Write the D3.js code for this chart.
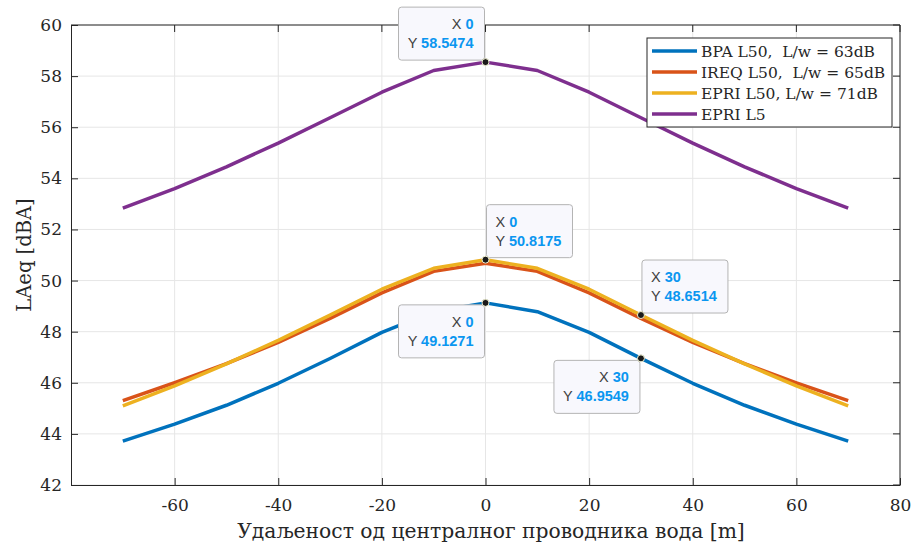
<!DOCTYPE html>
<html>
<head>
<meta charset="utf-8">
<script src="https://cdn.jsdelivr.net/npm/d3@7"></script>
<style>
  body { margin: 0; background: #fff; }
  svg text { font-family: "DejaVu Serif", "Liberation Serif", serif; }
  .tip text { font-family: "Liberation Sans", Arial, sans-serif; }
</style>
</head>
<body>
<svg id="chart" width="912" height="547"></svg>
<script>
// Data
const distances = [-70, -60, -50, -40, -30, -20, -10, 0, 10, 20, 30, 40, 50, 60, 70];
const bpaL50  = [43.72, 44.38, 45.12, 45.98, 46.95, 47.97, 48.78, 49.1271, 48.78, 47.97, 46.9549, 45.98, 45.12, 44.38, 43.72];
const ireqL50 = [45.30, 46.00, 46.75, 47.58, 48.52, 49.52, 50.36, 50.68, 50.36, 49.52, 48.52, 47.58, 46.75, 46.00, 45.30];
const epriL50 = [45.10, 45.88, 46.74, 47.66, 48.65, 49.66, 50.48, 50.8175, 50.48, 49.66, 48.6514, 47.66, 46.74, 45.88, 45.10];
const epriL5  = [52.83, 53.60, 54.45, 55.38, 56.37, 57.37, 58.22, 58.5474, 58.22, 57.37, 56.37, 55.38, 54.45, 53.60, 52.83];
const xTicks = [-60, -40, -20, 0, 20, 40, 60, 80];
const yTicks = [42, 44, 46, 48, 50, 52, 54, 56, 58, 60];

const series = [
  { name: 'BPA L50,  L/w = 63dB',  values: bpaL50,  color: '#0072BD' },
  { name: 'IREQ L50,  L/w = 65dB', values: ireqL50, color: '#D95319' },
  { name: 'EPRI L50, L/w = 71dB',  values: epriL50, color: '#EDB120' },
  { name: 'EPRI L5',               values: epriL5,  color: '#7E2F8E' }
];

// Data tips: series index, point index, box side
const tips = [
  { s: 3, i: 7, side: 'left',  dx: -87, dy: -55 },
  { s: 2, i: 7, side: 'right', dx: 1,   dy: -55 },
  { s: 2, i: 10, side: 'right', dx: 1,  dy: -55 },
  { s: 0, i: 7, side: 'left',  dx: -87, dy: 2 },
  { s: 0, i: 10, side: 'left', dx: -87, dy: 2 }
];

const svg = d3.select('#chart');
const m = { left: 71, right: 900, top: 25, bottom: 485 };

const x = d3.scaleLinear().domain([-80, 80]).range([m.left, m.right]);
const y = d3.scaleLinear().domain([42, 60]).range([m.bottom, m.top]);

// Grid
const grid = svg.append('g');
grid.selectAll('.gx').data(xTicks).join('line')
  .attr('x1', d => x(d)).attr('x2', d => x(d))
  .attr('y1', m.top).attr('y2', m.bottom)
  .attr('stroke', '#e6e6e6').attr('stroke-width', 1);
grid.selectAll('.gy').data(yTicks).join('line')
  .attr('x1', m.left).attr('x2', m.right)
  .attr('y1', d => y(d)).attr('y2', d => y(d))
  .attr('stroke', '#e6e6e6').attr('stroke-width', 1);

// Axes
const fmt = d => String(d);
const xAxis = svg.append('g')
  .attr('transform', `translate(0,${m.bottom})`)
  .call(d3.axisBottom(x).tickValues(xTicks).tickFormat(fmt).tickSizeInner(-7).tickSizeOuter(0).tickPadding(14));
const yAxis = svg.append('g')
  .attr('transform', `translate(${m.left},0)`)
  .call(d3.axisLeft(y).tickValues(yTicks).tickFormat(fmt).tickSizeInner(-7).tickSizeOuter(0).tickPadding(9));
[xAxis, yAxis].forEach(a => {
  a.select('.domain').attr('stroke', '#262626');
  a.selectAll('.tick line').attr('stroke', '#262626');
  a.selectAll('.tick text').attr('fill', '#262626').style('font-size', '17px')
    .style('font-family', '"DejaVu Serif", serif');
});
// top and right box edges with ticks
svg.append('line').attr('x1', m.left).attr('x2', m.right).attr('y1', m.top).attr('y2', m.top).attr('stroke', '#262626');
svg.append('line').attr('x1', m.right).attr('x2', m.right).attr('y1', m.top).attr('y2', m.bottom).attr('stroke', '#262626');
svg.append('g').selectAll('line').data(xTicks).join('line')
  .attr('x1', d => x(d)).attr('x2', d => x(d)).attr('y1', m.top).attr('y2', m.top + 7).attr('stroke', '#262626');
svg.append('g').selectAll('line').data(yTicks).join('line')
  .attr('x1', m.right - 7).attr('x2', m.right).attr('y1', d => y(d)).attr('y2', d => y(d)).attr('stroke', '#262626');

// Labels
const xl = svg.append('text')
  .attr('x', 491).attr('y', 538)
  .attr('text-anchor', 'middle').attr('fill', '#262626')
  .style('font-size', '20px')
  .text('Удаљеност од централног проводника вода [m]');
const w = xl.node().getComputedTextLength();
xl.style('font-size', (20 * 508 / w).toFixed(2) + 'px');
svg.append('text')
  .attr('transform', `translate(31,${(m.top + m.bottom) / 2}) rotate(-90)`)
  .attr('text-anchor', 'middle').attr('fill', '#262626')
  .style('font-size', '19.5px')
  .text('LAeq [dBA]');

// Lines
const line = d3.line().x((d, i) => x(distances[i])).y(d => y(d));
svg.append('g').selectAll('path').data(series).join('path')
  .attr('d', d => line(d.values))
  .attr('fill', 'none')
  .attr('stroke', d => d.color)
  .attr('stroke-width', 3.5)
  .attr('stroke-linejoin', 'round');

// Legend
const lg = svg.append('g').attr('transform', 'translate(647,38)');
lg.append('rect').attr('width', 245).attr('height', 89)
  .attr('fill', '#fff').attr('stroke', '#262626').attr('stroke-width', 1);
series.forEach((s, k) => {
  const yy = 13 + k * 21;
  lg.append('line').attr('x1', 5).attr('x2', 50).attr('y1', yy).attr('y2', yy)
    .attr('stroke', s.color).attr('stroke-width', 3.5);
  lg.append('text').attr('x', 54).attr('y', yy + 6)
    .attr('fill', '#262626').style('font-size', '15.5px').style('white-space', 'pre')
    .text(s.name);
});

// Data tips
const tg = svg.append('g').attr('class', 'tip');
tips.forEach(t => {
  const vx = distances[t.i];
  const vy = series[t.s].values[t.i];
  const px = x(vx), py = y(vy);
  const bx = px + t.dx, by = py + t.dy;
  const g = tg.append('g');
  g.append('rect').attr('x', bx).attr('y', by).attr('width', 86).attr('height', 53)
    .attr('rx', 3).attr('fill', '#f8f8fd').attr('stroke', '#b4b4b4').attr('stroke-width', 1);
  const anchor = t.side === 'left' ? 'end' : 'start';
  const tx = t.side === 'left' ? bx + 75 : bx + 9;
  const rows = [['X ', String(vx)], ['Y ', vy.toFixed(4)]];
  rows.forEach((r, k) => {
    const txt = g.append('text').attr('x', tx).attr('y', by + 22 + k * 19)
      .attr('text-anchor', anchor).style('font-size', '14.5px');
    txt.append('tspan').attr('fill', '#404040').text(r[0]);
    txt.append('tspan').attr('fill', '#0a96f0').attr('font-weight', 'bold').text(r[1]);
  });
  g.append('circle').attr('cx', px).attr('cy', py).attr('r', 3.5)
    .attr('fill', '#1a1a1a').attr('stroke', '#f0f0d0').attr('stroke-width', 1);
});
</script>
</body>
</html>
